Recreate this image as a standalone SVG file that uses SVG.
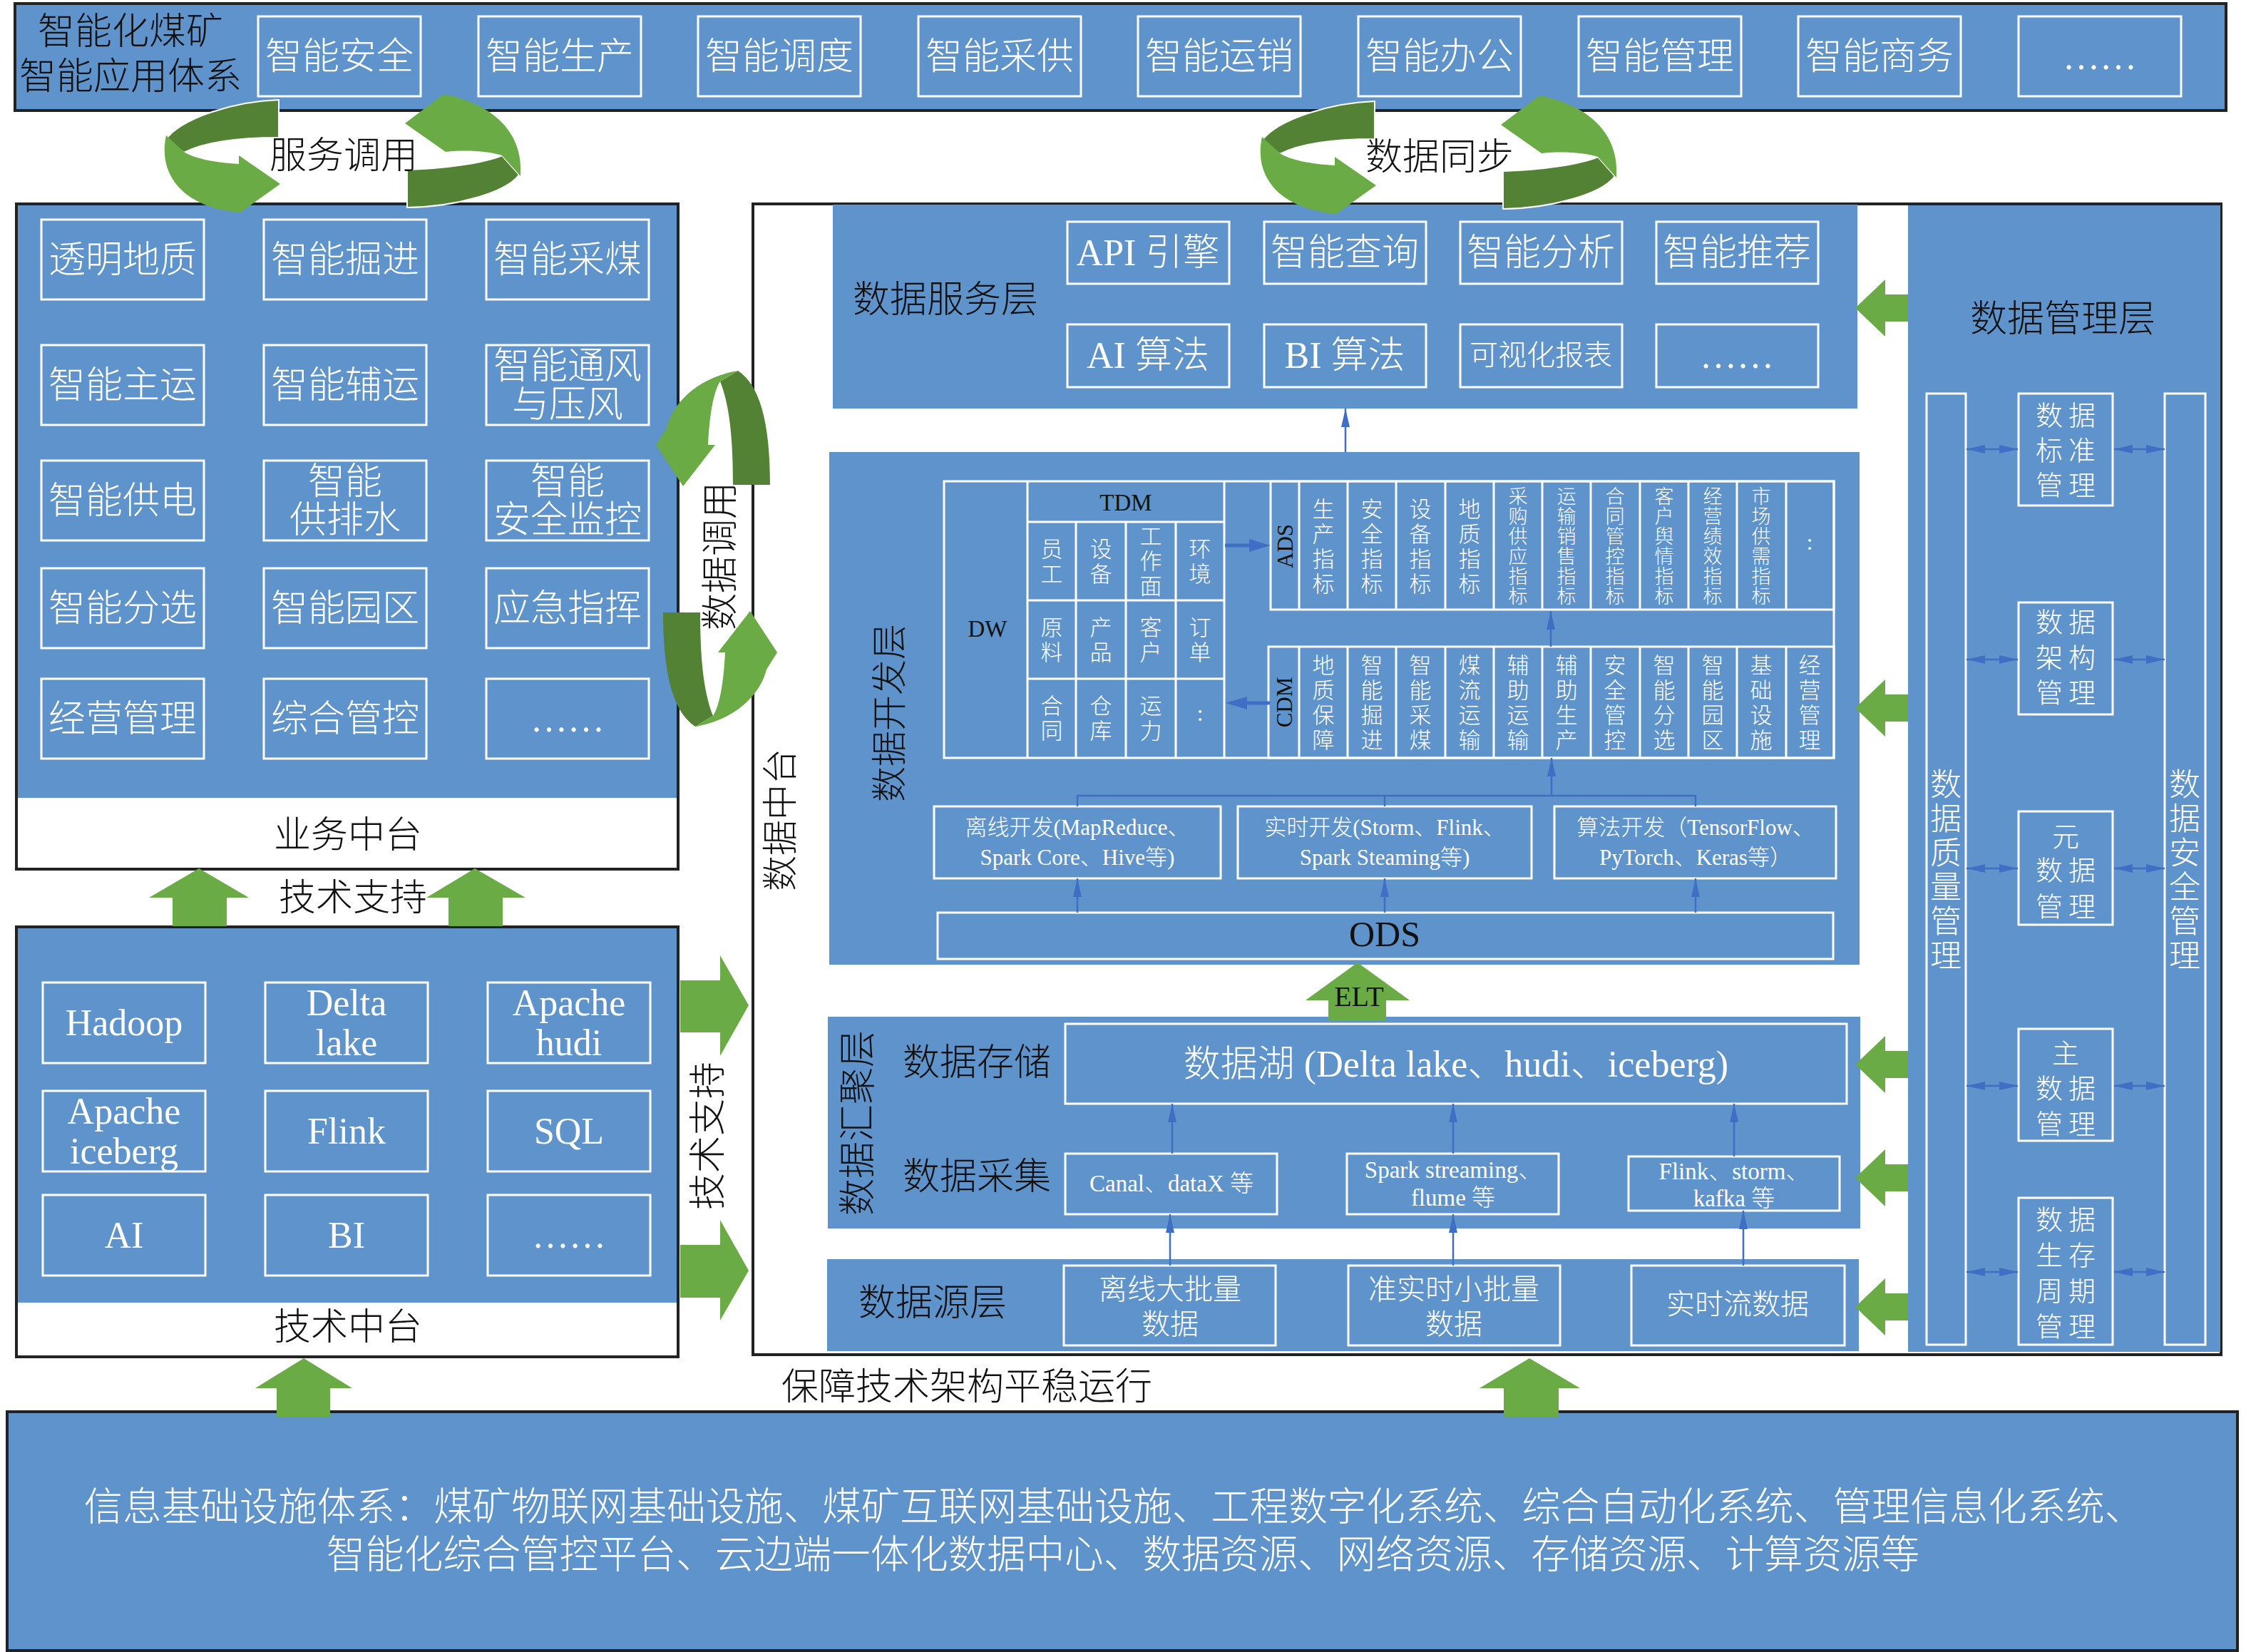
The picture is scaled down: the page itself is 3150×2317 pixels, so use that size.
<svg xmlns="http://www.w3.org/2000/svg" width="3150" height="2317" viewBox="0 0 3150 2317">
<style>
text{font-family:'Liberation Serif','Noto Sans CJK SC',serif;text-anchor:middle;dominant-baseline:central;font-weight:300}
.bl{fill:#5E93CB}
.fr{fill:none;stroke:#222;stroke-width:4}
.wb{fill:none;stroke:#fff;stroke-width:3}
.w{fill:#fff}
.k{fill:#111}
.g1{fill:#6AAB45}
.g2{fill:#548235}
.ln{stroke:#3E6FC4;stroke-width:2.5;fill:none}
.lt{stroke:#3E6FC4;stroke-width:5;fill:none}
.s52{font-size:52px}.s44{font-size:44px}.s40{font-size:40px}.s38{font-size:38px}
.s33{font-size:33px}.s31{font-size:31px}.s27{font-size:27px}.s50{font-size:50px}.s54{font-size:54.5px}
</style>
<defs>
<marker id="ah" viewBox="0 0 26 12" refX="26" refY="6" markerWidth="26" markerHeight="12" markerUnits="userSpaceOnUse" orient="auto-start-reverse"><path d="M0,0 L26,6 L0,12 Z" fill="#3E6FC4"/></marker>
<marker id="aht" viewBox="0 0 30 18" refX="12" refY="9" markerWidth="30" markerHeight="18" markerUnits="userSpaceOnUse" orient="auto"><path d="M0,0 L30,9 L0,18 Z" fill="#3E6FC4"/></marker>
<g id="cycH">
<path class="g2" d="M391,140 C330,142 255,165 233,195 L258,214 C285,200 330,193 391,193 Z" stroke="#fff" stroke-width="2"/>
<path class="g1" d="M233,190 C222,240 250,290 337,298 L393,258 L335,218 L335,230 C300,228 272,222 258,213 Z"/>
<path class="g2" d="M571,238 L571,291 C640,290 710,270 728,245 L704,218 C680,228 630,236 571,238 Z" stroke="#fff" stroke-width="2"/>
<path class="g1" d="M622,132 C690,145 735,185 730,247 L704,218 C685,212 655,210 625,213 L568,173 Z"/>
</g>
<g id="cycV">
<path class="g2" d="M1035,520 C1065,540 1080,590 1080,680 L1028,680 C1028,620 1024,570 1010,535 Z"/>
<path class="g1" d="M1035,520 C985,528 945,560 935,600 L920,624 L958,682 L1003,624 L993,624 C995,585 1000,550 1010,535 Z"/>
</g>
</defs>

<g id="app-layer">
<rect x="21" y="5" width="3101" height="150" class="bl"/>
<rect x="21" y="5" width="3101" height="150" class="fr"/>
<text class="k s52" x="183" y="44">智能化煤矿</text>
<text class="k s52" x="183" y="107">智能应用体系</text>
<rect class="wb" x="362" y="23" width="228" height="112"/><text class="w s52" x="476" y="79">智能安全</text>
<rect class="wb" x="671" y="23" width="228" height="112"/><text class="w s52" x="785" y="79">智能生产</text>
<rect class="wb" x="979" y="23" width="228" height="112"/><text class="w s52" x="1093" y="79">智能调度</text>
<rect class="wb" x="1288" y="23" width="228" height="112"/><text class="w s52" x="1402" y="79">智能采供</text>
<rect class="wb" x="1596" y="23" width="228" height="112"/><text class="w s52" x="1710" y="79">智能运销</text>
<rect class="wb" x="1905" y="23" width="228" height="112"/><text class="w s52" x="2019" y="79">智能办公</text>
<rect class="wb" x="2214" y="23" width="228" height="112"/><text class="w s52" x="2328" y="79">智能管理</text>
<rect class="wb" x="2522" y="23" width="228" height="112"/><text class="w s52" x="2636" y="79">智能商务</text>
<rect class="wb" x="2831" y="23" width="228" height="112"/><text class="w s52" x="2945" y="79">……</text>
</g>

<g id="business-platform">
<rect x="23" y="286" width="928" height="833" class="bl"/>
<rect x="23" y="286" width="928" height="933" class="fr"/>
<rect class="wb" x="58" y="308" width="228" height="112"/><text class="w s52" x="172" y="364">透明地质</text>
<rect class="wb" x="370" y="308" width="228" height="112"/><text class="w s52" x="484" y="364">智能掘进</text>
<rect class="wb" x="682" y="308" width="228" height="112"/><text class="w s52" x="796" y="364">智能采煤</text>
<rect class="wb" x="58" y="484" width="228" height="112"/><text class="w s52" x="172" y="540">智能主运</text>
<rect class="wb" x="370" y="484" width="228" height="112"/><text class="w s52" x="484" y="540">智能辅运</text>
<rect class="wb" x="682" y="484" width="228" height="112"/><text class="w s52" x="796" y="513">智能通风</text><text class="w s52" x="796" y="567">与压风</text>
<rect class="wb" x="58" y="646" width="228" height="112"/><text class="w s52" x="172" y="702">智能供电</text>
<rect class="wb" x="370" y="646" width="228" height="112"/><text class="w s52" x="484" y="675">智能</text><text class="w s52" x="484" y="729">供排水</text>
<rect class="wb" x="682" y="646" width="228" height="112"/><text class="w s52" x="796" y="675">智能</text><text class="w s52" x="796" y="729">安全监控</text>
<rect class="wb" x="58" y="797" width="228" height="112"/><text class="w s52" x="172" y="853">智能分选</text>
<rect class="wb" x="370" y="797" width="228" height="112"/><text class="w s52" x="484" y="853">智能园区</text>
<rect class="wb" x="682" y="797" width="228" height="112"/><text class="w s52" x="796" y="853">应急指挥</text>
<rect class="wb" x="58" y="952" width="228" height="112"/><text class="w s52" x="172" y="1008">经营管理</text>
<rect class="wb" x="370" y="952" width="228" height="112"/><text class="w s52" x="484" y="1008">综合管控</text>
<rect class="wb" x="682" y="952" width="228" height="112"/><text class="w s52" x="796" y="1008">……</text>
<text class="k s52" x="488" y="1171">业务中台</text>
</g>

<g id="tech-platform">
<rect x="23" y="1300" width="928" height="527" class="bl"/>
<rect x="23" y="1300" width="928" height="603" class="fr"/>
<rect class="wb" x="60" y="1378" width="228" height="113"/><text class="w s52" x="174" y="1434">Hadoop</text>
<rect class="wb" x="372" y="1378" width="228" height="113"/><text class="w s52" x="486" y="1406">Delta</text><text class="w s52" x="486" y="1462">lake</text>
<rect class="wb" x="684" y="1378" width="228" height="113"/><text class="w s52" x="798" y="1406">Apache</text><text class="w s52" x="798" y="1462">hudi</text>
<rect class="wb" x="60" y="1530" width="228" height="113"/><text class="w s52" x="174" y="1558">Apache</text><text class="w s52" x="174" y="1614">iceberg</text>
<rect class="wb" x="372" y="1530" width="228" height="113"/><text class="w s52" x="486" y="1586">Flink</text>
<rect class="wb" x="684" y="1530" width="228" height="113"/><text class="w s52" x="798" y="1586">SQL</text>
<rect class="wb" x="60" y="1676" width="228" height="113"/><text class="w s52" x="174" y="1732">AI</text>
<rect class="wb" x="372" y="1676" width="228" height="113"/><text class="w s52" x="486" y="1732">BI</text>
<rect class="wb" x="684" y="1676" width="228" height="113"/><text class="w s52" x="798" y="1732">……</text>
<text class="k s52" x="488" y="1861">技术中台</text>
</g>

<g id="data-platform">
<rect x="1056" y="286" width="2059" height="1614" class="fr"/>
<text class="k s50" transform="translate(1095,1150) rotate(-90)" x="0" y="0">数据中台</text>
</g>

<g id="data-service-layer">
<rect x="1168" y="287" width="1437" height="286" class="bl"/>
<text class="k s52" x="1326" y="420">数据服务层</text>
<rect class="wb" x="1497" y="311" width="227" height="87"/><text class="w s52" x="1610" y="354">API 引擎</text>
<rect class="wb" x="1773" y="311" width="227" height="87"/><text class="w s52" x="1886" y="354">智能查询</text>
<rect class="wb" x="2048" y="311" width="227" height="87"/><text class="w s52" x="2161" y="354">智能分析</text>
<rect class="wb" x="2323" y="311" width="227" height="87"/><text class="w s52" x="2436" y="354">智能推荐</text>
<rect class="wb" x="1497" y="455" width="227" height="88"/><text class="w s52" x="1610" y="498">AI 算法</text>
<rect class="wb" x="1773" y="455" width="227" height="88"/><text class="w s52" x="1886" y="498">BI 算法</text>
<rect class="wb" x="2048" y="455" width="227" height="88"/><text class="w s40" x="2161" y="498">可视化报表</text>
<rect class="wb" x="2323" y="455" width="227" height="88"/><text class="w s52" x="2436" y="498">……</text>
</g>

<g id="data-dev-layer">
<rect x="1163" y="634" width="1445" height="719" class="bl"/>
<text class="k s50" transform="translate(1248,1000) rotate(-90)" x="0" y="0">数据开发层</text>
<rect class="wb" x="1324" y="675" width="1248" height="388"/>
<path class="wb" d="M1441,675 V1063 M1717,675 V1063 M1441,732 H1717 M1441,842 H1717 M1441,952 H1717 M1509,732 V1063 M1579,732 V1063 M1649,732 V1063"/>
<text class="k s33" x="1385" y="882">DW</text>
<text class="k s33" x="1579" y="705">TDM</text>
<text class="w s31"><tspan x="1475" y="770">员</tspan><tspan x="1475" y="805">工</tspan></text>
<text class="w s31"><tspan x="1544" y="770">设</tspan><tspan x="1544" y="805">备</tspan></text>
<text class="w s31"><tspan x="1614" y="752">工</tspan><tspan x="1614" y="787">作</tspan><tspan x="1614" y="822">面</tspan></text>
<text class="w s31"><tspan x="1683" y="770">环</tspan><tspan x="1683" y="805">境</tspan></text>
<text class="w s31"><tspan x="1475" y="880">原</tspan><tspan x="1475" y="915">料</tspan></text>
<text class="w s31"><tspan x="1544" y="880">产</tspan><tspan x="1544" y="915">品</tspan></text>
<text class="w s31"><tspan x="1614" y="880">客</tspan><tspan x="1614" y="915">户</tspan></text>
<text class="w s31"><tspan x="1683" y="880">订</tspan><tspan x="1683" y="915">单</tspan></text>
<text class="w s31"><tspan x="1475" y="990">合</tspan><tspan x="1475" y="1025">同</tspan></text>
<text class="w s31"><tspan x="1544" y="990">仓</tspan><tspan x="1544" y="1025">库</tspan></text>
<text class="w s31"><tspan x="1614" y="990">运</tspan><tspan x="1614" y="1025">力</tspan></text>
<text class="w s31" x="1683" y="1000">:</text>

<rect class="wb" x="1782" y="675" width="790" height="180"/>
<path class="wb" d="M1822,675 V855 M1890,675 V855 M1958,675 V855 M2027,675 V855 M2095,675 V855 M2163,675 V855 M2231,675 V855 M2300,675 V855 M2368,675 V855 M2436,675 V855 M2505,675 V855"/>
<text class="k s31" transform="translate(1802,766) rotate(-90)" x="0" y="0">ADS</text>
<text class="w s31"><tspan x="1856" y="714">生</tspan><tspan x="1856" y="749">产</tspan><tspan x="1856" y="784">指</tspan><tspan x="1856" y="819">标</tspan></text>
<text class="w s31"><tspan x="1924" y="714">安</tspan><tspan x="1924" y="749">全</tspan><tspan x="1924" y="784">指</tspan><tspan x="1924" y="819">标</tspan></text>
<text class="w s31"><tspan x="1992" y="714">设</tspan><tspan x="1992" y="749">备</tspan><tspan x="1992" y="784">指</tspan><tspan x="1992" y="819">标</tspan></text>
<text class="w s31"><tspan x="2061" y="714">地</tspan><tspan x="2061" y="749">质</tspan><tspan x="2061" y="784">指</tspan><tspan x="2061" y="819">标</tspan></text>
<text class="w s27"><tspan x="2129" y="697">采</tspan><tspan x="2129" y="725">购</tspan><tspan x="2129" y="753">供</tspan><tspan x="2129" y="781">应</tspan><tspan x="2129" y="809">指</tspan><tspan x="2129" y="837">标</tspan></text>
<text class="w s27"><tspan x="2197" y="697">运</tspan><tspan x="2197" y="725">输</tspan><tspan x="2197" y="753">销</tspan><tspan x="2197" y="781">售</tspan><tspan x="2197" y="809">指</tspan><tspan x="2197" y="837">标</tspan></text>
<text class="w s27"><tspan x="2265" y="697">合</tspan><tspan x="2265" y="725">同</tspan><tspan x="2265" y="753">管</tspan><tspan x="2265" y="781">控</tspan><tspan x="2265" y="809">指</tspan><tspan x="2265" y="837">标</tspan></text>
<text class="w s27"><tspan x="2334" y="697">客</tspan><tspan x="2334" y="725">户</tspan><tspan x="2334" y="753">舆</tspan><tspan x="2334" y="781">情</tspan><tspan x="2334" y="809">指</tspan><tspan x="2334" y="837">标</tspan></text>
<text class="w s27"><tspan x="2402" y="697">经</tspan><tspan x="2402" y="725">营</tspan><tspan x="2402" y="753">绩</tspan><tspan x="2402" y="781">效</tspan><tspan x="2402" y="809">指</tspan><tspan x="2402" y="837">标</tspan></text>
<text class="w s27"><tspan x="2470" y="697">市</tspan><tspan x="2470" y="725">场</tspan><tspan x="2470" y="753">供</tspan><tspan x="2470" y="781">需</tspan><tspan x="2470" y="809">指</tspan><tspan x="2470" y="837">标</tspan></text>
<text class="w s31" x="2538" y="760">:</text>

<rect class="wb" x="1779" y="907" width="793" height="156"/>
<path class="wb" d="M1822,907 V1063 M1890,907 V1063 M1958,907 V1063 M2027,907 V1063 M2095,907 V1063 M2163,907 V1063 M2231,907 V1063 M2300,907 V1063 M2368,907 V1063 M2436,907 V1063 M2505,907 V1063"/>
<text class="k s31" transform="translate(1801,985) rotate(-90)" x="0" y="0">CDM</text>
<text class="w s31"><tspan x="1856" y="933">地</tspan><tspan x="1856" y="968">质</tspan><tspan x="1856" y="1003">保</tspan><tspan x="1856" y="1038">障</tspan></text>
<text class="w s31"><tspan x="1924" y="933">智</tspan><tspan x="1924" y="968">能</tspan><tspan x="1924" y="1003">掘</tspan><tspan x="1924" y="1038">进</tspan></text>
<text class="w s31"><tspan x="1992" y="933">智</tspan><tspan x="1992" y="968">能</tspan><tspan x="1992" y="1003">采</tspan><tspan x="1992" y="1038">煤</tspan></text>
<text class="w s31"><tspan x="2061" y="933">煤</tspan><tspan x="2061" y="968">流</tspan><tspan x="2061" y="1003">运</tspan><tspan x="2061" y="1038">输</tspan></text>
<text class="w s31"><tspan x="2129" y="933">辅</tspan><tspan x="2129" y="968">助</tspan><tspan x="2129" y="1003">运</tspan><tspan x="2129" y="1038">输</tspan></text>
<text class="w s31"><tspan x="2197" y="933">辅</tspan><tspan x="2197" y="968">助</tspan><tspan x="2197" y="1003">生</tspan><tspan x="2197" y="1038">产</tspan></text>
<text class="w s31"><tspan x="2265" y="933">安</tspan><tspan x="2265" y="968">全</tspan><tspan x="2265" y="1003">管</tspan><tspan x="2265" y="1038">控</tspan></text>
<text class="w s31"><tspan x="2334" y="933">智</tspan><tspan x="2334" y="968">能</tspan><tspan x="2334" y="1003">分</tspan><tspan x="2334" y="1038">选</tspan></text>
<text class="w s31"><tspan x="2402" y="933">智</tspan><tspan x="2402" y="968">能</tspan><tspan x="2402" y="1003">园</tspan><tspan x="2402" y="1038">区</tspan></text>
<text class="w s31"><tspan x="2470" y="933">基</tspan><tspan x="2470" y="968">础</tspan><tspan x="2470" y="1003">设</tspan><tspan x="2470" y="1038">施</tspan></text>
<text class="w s31"><tspan x="2538" y="933">经</tspan><tspan x="2538" y="968">营</tspan><tspan x="2538" y="1003">管</tspan><tspan x="2538" y="1038">理</tspan></text>

<rect class="wb" x="1310" y="1131" width="402" height="101"/>
<text class="w s31" x="1511" y="1160">离线开发(MapReduce、</text><text class="w s31" x="1511" y="1202">Spark Core、Hive等)</text>
<rect class="wb" x="1736" y="1131" width="412" height="101"/>
<text class="w s31" x="1942" y="1160">实时开发(Storm、Flink、</text><text class="w s31" x="1942" y="1202">Spark Steaming等)</text>
<rect class="wb" x="2180" y="1131" width="395" height="101"/>
<text class="w s31" x="2378" y="1160">算法开发（TensorFlow、</text><text class="w s31" x="2378" y="1202">PyTorch、Keras等）</text>
<rect class="wb" x="1315" y="1280" width="1256" height="65"/>
<text class="k s50" x="1942" y="1310">ODS</text>
</g>

<g id="data-aggregation-layer">
<rect x="1161" y="1426" width="1448" height="297" class="bl"/>
<text class="k s52" transform="translate(1203,1575) rotate(-90)" x="0" y="0">数据汇聚层</text>
<text class="k s52" x="1370" y="1490">数据存储</text>
<text class="k s52" x="1370" y="1650">数据采集</text>
<rect class="wb" x="1494" y="1436" width="1096" height="112"/>
<text class="w s52" x="2042" y="1492">数据湖 (Delta lake、hudi、iceberg)</text>
<rect class="wb" x="1494" y="1618" width="297" height="85"/>
<text class="w s33" x="1643" y="1660">Canal、dataX 等</text>
<rect class="wb" x="1889" y="1618" width="297" height="85"/>
<text class="w s33" x="2038" y="1641">Spark streaming、</text><text class="w s33" x="2038" y="1680">flume 等</text>
<rect class="wb" x="2284" y="1622" width="296" height="76"/>
<text class="w s33" x="2432" y="1643">Flink、storm、</text><text class="w s33" x="2432" y="1681">kafka 等</text>
</g>

<g id="data-source-layer">
<rect x="1160" y="1766" width="1447" height="129" class="bl"/>
<text class="k s52" x="1308" y="1827">数据源层</text>
<rect class="wb" x="1492" y="1775" width="297" height="112"/>
<text class="w s40" x="1641" y="1808">离线大批量</text><text class="w s40" x="1641" y="1857">数据</text>
<rect class="wb" x="1891" y="1775" width="297" height="112"/>
<text class="w s40" x="2039" y="1808">准实时小批量</text><text class="w s40" x="2039" y="1857">数据</text>
<rect class="wb" x="2288" y="1775" width="299" height="112"/>
<text class="w s40" x="2437" y="1829">实时流数据</text>
</g>

<g id="data-management-layer">
<rect x="2676" y="288" width="438" height="1608" class="bl"/>
<text class="k s52" x="2893" y="447">数据管理层</text>
<rect class="wb" x="2702" y="552" width="55" height="1334"/>
<text class="w s44"><tspan x="2729" y="1101">数</tspan><tspan x="2729" y="1149">据</tspan><tspan x="2729" y="1197">质</tspan><tspan x="2729" y="1245">量</tspan><tspan x="2729" y="1293">管</tspan><tspan x="2729" y="1341">理</tspan></text>
<rect class="wb" x="3036" y="552" width="57" height="1334"/>
<text class="w s44"><tspan x="3064" y="1101">数</tspan><tspan x="3064" y="1149">据</tspan><tspan x="3064" y="1197">安</tspan><tspan x="3064" y="1245">全</tspan><tspan x="3064" y="1293">管</tspan><tspan x="3064" y="1341">理</tspan></text>
<g letter-spacing="8">
<rect class="wb" x="2831" y="552" width="132" height="157"/>
<text class="w s38"><tspan x="2901" y="583">数据</tspan><tspan x="2901" y="632">标准</tspan><tspan x="2901" y="681">管理</tspan></text>
<rect class="wb" x="2831" y="845" width="132" height="157"/>
<text class="w s38"><tspan x="2901" y="873">数据</tspan><tspan x="2901" y="923">架构</tspan><tspan x="2901" y="972">管理</tspan></text>
<rect class="wb" x="2831" y="1138" width="132" height="159"/>
<text class="w s38"><tspan x="2901" y="1174">元</tspan><tspan x="2901" y="1221">数据</tspan><tspan x="2901" y="1272">管理</tspan></text>
<rect class="wb" x="2831" y="1443" width="132" height="157"/>
<text class="w s38"><tspan x="2901" y="1478">主</tspan><tspan x="2901" y="1527">数据</tspan><tspan x="2901" y="1577">管理</tspan></text>
<rect class="wb" x="2831" y="1680" width="132" height="206"/>
<text class="w s38"><tspan x="2901" y="1711">数据</tspan><tspan x="2901" y="1761">生存</tspan><tspan x="2901" y="1811">周期</tspan><tspan x="2901" y="1861">管理</tspan></text>
</g>
</g>

<g id="infrastructure">
<rect x="10" y="1980" width="3128" height="335" class="bl"/>
<rect x="10" y="1980" width="3128" height="335" class="fr"/>
<text class="w s54" x="1562" y="2113">信息基础设施体系：煤矿物联网基础设施、煤矿互联网基础设施、工程数字化系统、综合自动化系统、管理信息化系统、</text>
<text class="w s54" x="1575" y="2180">智能化综合管控平台、云边端一体化数据中心、数据资源、网络资源、存储资源、计算资源等</text>
</g>

<g id="connectors">
<line class="ln" x1="1887" y1="634" x2="1887" y2="573" marker-end="url(#ah)"/>
<line class="lt" x1="1718" y1="765" x2="1764" y2="765" marker-end="url(#aht)"/>
<line class="lt" x1="1781" y1="986" x2="1737" y2="986" marker-end="url(#aht)"/>
<line class="ln" x1="2175" y1="907" x2="2175" y2="857" marker-end="url(#ah)"/>
<path class="ln" d="M1511,1131 V1116 H2378 V1131 M1942,1131 V1116" stroke-width="3.5"/>
<line class="ln" x1="2176" y1="1116" x2="2176" y2="1063" marker-end="url(#ah)"/>
<line class="ln" x1="1511" y1="1280" x2="1511" y2="1232" marker-end="url(#ah)"/>
<line class="ln" x1="1942" y1="1280" x2="1942" y2="1232" marker-end="url(#ah)"/>
<line class="ln" x1="2378" y1="1280" x2="2378" y2="1232" marker-end="url(#ah)"/>
<line class="ln" x1="1644" y1="1618" x2="1644" y2="1548" marker-end="url(#ah)"/>
<line class="ln" x1="2038" y1="1618" x2="2038" y2="1548" marker-end="url(#ah)"/>
<line class="ln" x1="2432" y1="1622" x2="2432" y2="1548" marker-end="url(#ah)"/>
<line class="ln" x1="1641" y1="1775" x2="1641" y2="1703" marker-end="url(#ah)"/>
<line class="ln" x1="2038" y1="1775" x2="2038" y2="1703" marker-end="url(#ah)"/>
<line class="ln" x1="2445" y1="1775" x2="2445" y2="1698" marker-end="url(#ah)"/>
<g>
<line class="ln" x1="2758" y1="630" x2="2830" y2="630" marker-start="url(#ah)" marker-end="url(#ah)"/>
<line class="ln" x1="2965" y1="630" x2="3036" y2="630" marker-start="url(#ah)" marker-end="url(#ah)"/>
<line class="ln" x1="2758" y1="925" x2="2830" y2="925" marker-start="url(#ah)" marker-end="url(#ah)"/>
<line class="ln" x1="2965" y1="925" x2="3036" y2="925" marker-start="url(#ah)" marker-end="url(#ah)"/>
<line class="ln" x1="2758" y1="1218" x2="2830" y2="1218" marker-start="url(#ah)" marker-end="url(#ah)"/>
<line class="ln" x1="2965" y1="1218" x2="3036" y2="1218" marker-start="url(#ah)" marker-end="url(#ah)"/>
<line class="ln" x1="2758" y1="1523" x2="2830" y2="1523" marker-start="url(#ah)" marker-end="url(#ah)"/>
<line class="ln" x1="2965" y1="1523" x2="3036" y2="1523" marker-start="url(#ah)" marker-end="url(#ah)"/>
<line class="ln" x1="2758" y1="1784" x2="2830" y2="1784" marker-start="url(#ah)" marker-end="url(#ah)"/>
<line class="ln" x1="2965" y1="1784" x2="3036" y2="1784" marker-start="url(#ah)" marker-end="url(#ah)"/>
</g>
<use href="#cycH"/>
<use href="#cycH" transform="translate(1537,2)"/>
<use href="#cycV"/>
<use href="#cycV" transform="rotate(180,1005,769.5)"/>
<polygon class="g1" points="279,1218 349,1259 318,1259 318,1299 242,1299 242,1259 209,1259"/>
<polygon class="g1" points="666,1218 737,1259 705,1259 705,1299 629,1299 629,1259 598,1259"/>
<polygon class="g1" points="954,1375 1010,1375 1010,1340 1050,1410 1010,1481 1010,1448 954,1448"/>
<polygon class="g1" points="954,1746 1010,1746 1010,1711 1050,1782 1010,1852 1010,1820 954,1820"/>
<polygon class="g1" points="426,1905 494,1947 463,1947 463,1988 388,1988 388,1947 358,1947"/>
<polygon class="g1" points="2145,1905 2216,1947 2186,1947 2186,1988 2109,1988 2109,1947 2075,1947"/>
<polygon class="g1" points="1904,1350 1977,1403 1944,1403 1944,1432 1863,1432 1863,1403 1831,1403"/>
<polygon class="g1" points="2602,432 2644,392 2644,413 2676,413 2676,451 2644,451 2644,472"/>
<polygon class="g1" points="2602,993 2644,953 2644,974 2676,974 2676,1012 2644,1012 2644,1033"/>
<polygon class="g1" points="2602,1493 2644,1453 2644,1474 2676,1474 2676,1512 2644,1512 2644,1533"/>
<polygon class="g1" points="2602,1652 2644,1612 2644,1633 2676,1633 2676,1671 2644,1671 2644,1692"/>
<polygon class="g1" points="2602,1833 2644,1793 2644,1814 2676,1814 2676,1852 2644,1852 2644,1873"/>
</g>

<g id="connector-labels">
<text class="k s52" x="482" y="218">服务调用</text>
<text class="k s52" x="2019" y="220">数据同步</text>
<text class="k s52" transform="translate(1010,780) rotate(-90)" x="0" y="0">数据调用</text>
<text class="k s52" x="495" y="1259">技术支持</text>
<text class="k s52" transform="translate(993,1593) rotate(-90)" x="0" y="0">技术支持</text>
<text class="k s40" x="1906" y="1397">ELT</text>
<text class="k s52" x="1356" y="1945">保障技术架构平稳运行</text>
</g>
</svg>
